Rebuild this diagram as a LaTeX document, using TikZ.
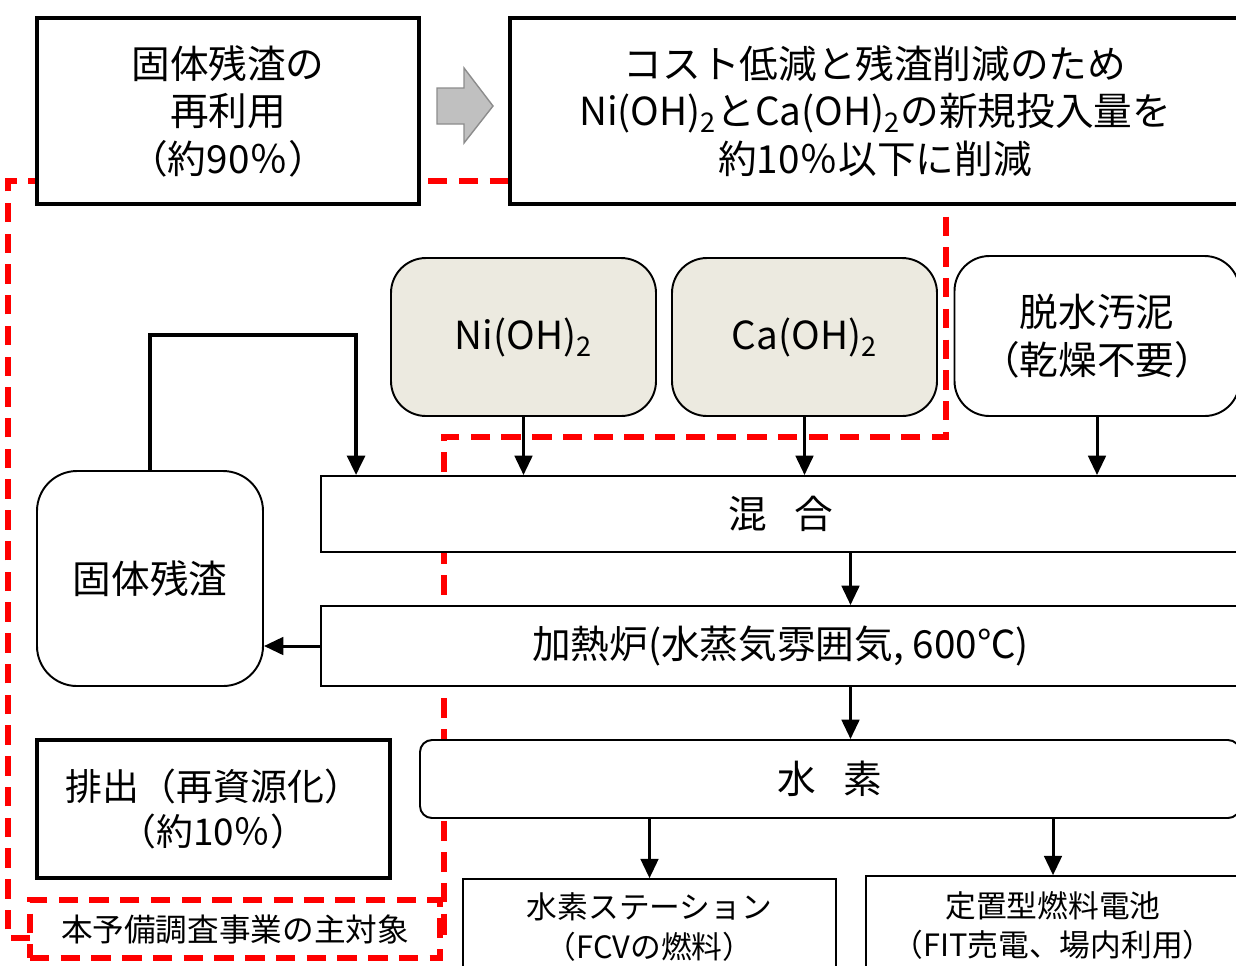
\documentclass[tikz,border=0pt]{standalone}
\usepackage{fontspec}
\setmainfont{Noto Sans CJK JP}
\usetikzlibrary{arrows.meta,calc}
\definecolor{chemfill}{HTML}{ECEAE0}
\definecolor{hintgray}{HTML}{C0C0C0}
\def\px{0.02cm}
\tikzset{
  box/.style={draw, fill=white, line width=1.1pt, inner sep=0pt, align=center, font=\fontsize{22}{27}\selectfont},
  heavybox/.style={box, line width=2.6pt},
  roundbox/.style={box, rounded corners=0.7cm},
  chembox/.style={roundbox, fill=chemfill},
  usebox/.style={box, line width=0.9pt, font=\fontsize{17.5}{22.5}\selectfont},
  arr/.style={line width=1.7pt, -{Triangle[width=10pt,length=11pt]}},
  target/.style={red, line width=3.2pt, dash pattern=on 11pt off 6.5pt}
}

\begin{document}
\begin{tikzpicture}[x=0.02cm, y=-0.02cm]
	%%%%% START %%%%%
	\useasboundingbox (0,0) rectangle (1236,965);
	\clip (0,0) rectangle (1236,965);
	
	% area of the study
	\draw[target] (30,938) -- (8,938) -- (8,181) -- (946,181) -- (946,437) -- (444,437) -- (444,932) -- (440,932);
	\node[target, draw, minimum width=410*\px, minimum height=58*\px, font=\fontsize{18}{22}\selectfont, text=black] (scope) at (235,929) {本予備調査事業の主対象};
	
	% top row
	\node[heavybox, minimum width=382*\px, minimum height=186*\px] (reuse) at (228,111) {固体残渣の\\再利用\\（約90％）};
	\node[heavybox, minimum width=730*\px, minimum height=186*\px] (cut) at (875,111) {コスト低減と残渣削減のため\\Ni(OH)\textsubscript{2}とCa(OH)\textsubscript{2}の新規投入量を\\約10％以下に削減};
	\draw[draw=black!45, fill=hintgray, line width=0.8pt] (437,88) -- (464,88) -- (464,68) -- (493,106) -- (464,143) -- (464,124) -- (437,124) -- cycle;
	
	% inputs
	\node[chembox, minimum width=265*\px, minimum height=158*\px] (ni) at (523.5,337) {Ni(OH)\textsubscript{2}};
	\node[chembox, minimum width=265*\px, minimum height=158*\px] (ca) at (804.5,337) {Ca(OH)\textsubscript{2}};
	\node[roundbox, minimum width=285*\px, minimum height=160*\px] (dew) at (1097,336) {脱水汚泥\\（乾燥不要）};
	
	% process
	\node[box, minimum width=919*\px, minimum height=76*\px] (mix) at (780.5,514) {混\hspace{0.7em}合};
	\node[box, minimum width=919*\px, minimum height=80*\px] (heat) at (780.5,646) {加熱炉(水蒸気雰囲気, 600℃)};
	\node[box, rounded corners=0.24cm, minimum width=820*\px, minimum height=78*\px] (h2) at (830,779) {水\hspace{0.7em}素};
	\node[roundbox, rounded corners=0.8cm, minimum width=226*\px, minimum height=215*\px] (residue) at (150,578.5) {固体残渣};
	\node[heavybox, minimum width=353*\px, minimum height=138*\px, font=\fontsize{21}{26}\selectfont] (emit) at (213.5,809) {排出（再資源化）\\（約10％）};
	
	% uses
	\node[usebox, minimum width=373*\px, minimum height=96*\px] (station) at (649.5,927) {水素ステーション\\（FCVの燃料）};
	\node[usebox, minimum width=374*\px, minimum height=99*\px] (fixed) at (1053,925.5) {定置型燃料電池\\（FIT売電、場内利用）};
	
	% flows
	\draw[arr] (ni.south) -- (ni.south |- mix.north);
	\draw[arr] (ca.south) -- (ca.south |- mix.north);
	\draw[arr] (dew.south) -- (dew.south |- mix.north);
	\draw[arr] ($(mix.south)+(70,0)$) coordinate (ms) -- (ms |- heat.north);
	\draw[arr] ($(heat.south)+(70,0)$) coordinate (hs) -- (hs |- h2.north);
	\draw[arr] (heat.west) -- (residue.east |- heat.west);
	\draw[arr, line width=2.2pt] (residue.north) -- ++(0,-135) -| ($(mix.north west)+(36,0)$);
	\draw[arr] (station.north |- h2.south) -- (station.north);
	\draw[arr] (fixed.north |- h2.south) -- (fixed.north);
	
	%%%%% END %%%%%
\end{tikzpicture}
\end{document}
